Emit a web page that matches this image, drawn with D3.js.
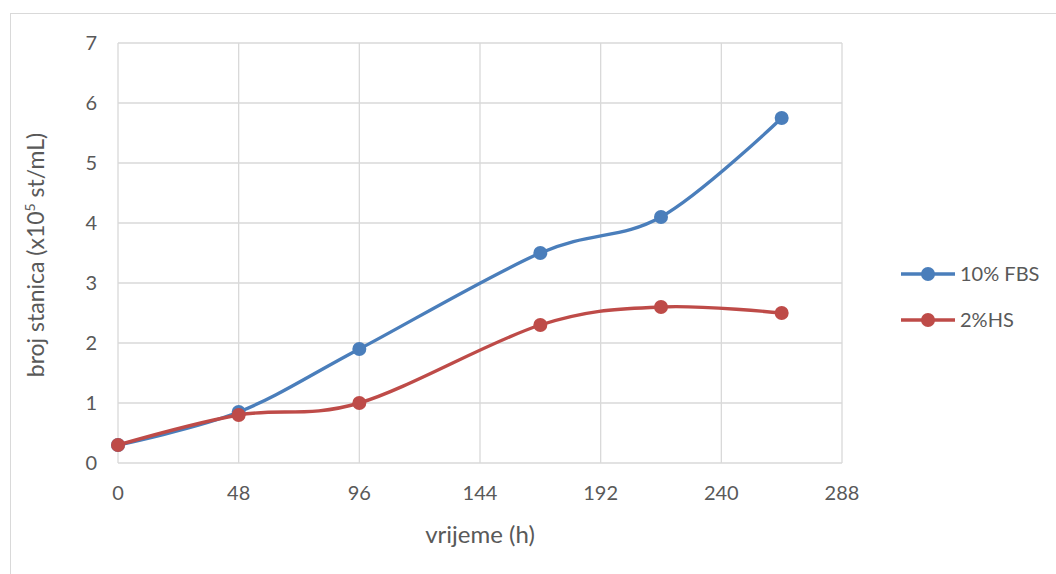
<!DOCTYPE html>
<html>
<head>
<meta charset="utf-8">
<script src="https://cdn.jsdelivr.net/npm/d3@7"></script>
<style>
  body { margin: 0; background: #fff; }
  text { font-family: Lato, "Open Sans", sans-serif; fill: #595959; }
</style>
</head>
<body>
<svg id="chart" width="1056" height="574"></svg>
<script>
// hours
const hours = [0, 48, 96, 168, 216, 264];
const fbs10 = [0.3, 0.85, 1.9, 3.5, 4.1, 5.75];
const hs2 = [0.3, 0.8, 1.0, 2.3, 2.6, 2.5];
const xTicks = [0, 48, 96, 144, 192, 240, 288];
const yTicks = [0, 1, 2, 3, 4, 5, 6, 7];
const seriesNames = ['10% FBS', '2%HS'];
const seriesColors = ['#4a7ebb', '#be4b48'];

const svg = d3.select('#chart');

// outer chart frame
svg.append('rect')
   .attr('x', 10.5).attr('y', 13.5)
   .attr('width', 1100).attr('height', 600)
   .attr('fill', 'none').attr('stroke', '#d9d9d9');

const x = d3.scaleLinear().domain([0, 288]).range([118, 842]);
const y = d3.scaleLinear().domain([0, 7]).range([463, 43]);

// grid
svg.selectAll('.vgrid').data(xTicks).enter().append('line')
   .attr('x1', d => x(d)).attr('x2', d => x(d))
   .attr('y1', y(0)).attr('y2', y(7))
   .attr('stroke', '#d9d9d9').attr('stroke-width', 1.3);
svg.selectAll('.hgrid').data(yTicks).enter().append('line')
   .attr('x1', x(0)).attr('x2', x(288))
   .attr('y1', d => y(d)).attr('y2', d => y(d))
   .attr('stroke', '#d9d9d9').attr('stroke-width', 1.3);

// tick labels
svg.selectAll('.xl').data(xTicks).enter().append('text')
   .attr('x', d => x(d)).attr('y', 500)
   .attr('text-anchor', 'middle').attr('font-size', 20)
   .text(d => d);
svg.selectAll('.yl').data(yTicks).enter().append('text')
   .attr('x', 97).attr('y', d => y(d) + 7)
   .attr('text-anchor', 'end').attr('font-size', 20)
   .text(d => d);

// axis titles
svg.append('text')
   .attr('x', 480).attr('y', 543)
   .attr('text-anchor', 'middle').attr('font-size', 24)
   .text('vrijeme (h)');

const yt = svg.append('text')
   .attr('transform', 'translate(44,255) rotate(-90)')
   .attr('text-anchor', 'middle').attr('font-size', 23);
yt.append('tspan').text('broj stanica (x10');
yt.append('tspan').attr('dy', -9).attr('font-size', 14).text('5');
yt.append('tspan').attr('dy', 9).text(' st/mL)');

// series
const series = [fbs10, hs2];
const line = d3.line()
   .x((d, i) => x(hours[i]))
   .y(d => y(d))
   .curve(d3.curveCardinal.tension(0));

series.forEach((vals, s) => {
  svg.append('path')
     .datum(vals)
     .attr('d', line)
     .attr('fill', 'none')
     .attr('stroke', seriesColors[s])
     .attr('stroke-width', 3.4)
     .attr('stroke-linecap', 'round');
  svg.selectAll('.pt' + s).data(vals).enter().append('circle')
     .attr('cx', (d, i) => x(hours[i]))
     .attr('cy', d => y(d))
     .attr('r', 7)
     .attr('fill', seriesColors[s]);
});

// legend
seriesNames.forEach((name, s) => {
  const ly = 274 + s * 46;
  svg.append('line')
     .attr('x1', 901).attr('x2', 955)
     .attr('y1', ly).attr('y2', ly)
     .attr('stroke', seriesColors[s]).attr('stroke-width', 3.4);
  svg.append('circle')
     .attr('cx', 928).attr('cy', ly).attr('r', 7)
     .attr('fill', seriesColors[s]);
  svg.append('text')
     .attr('x', 960).attr('y', ly + 7)
     .attr('font-size', 20)
     .text(name);
});
</script>
</body>
</html>
